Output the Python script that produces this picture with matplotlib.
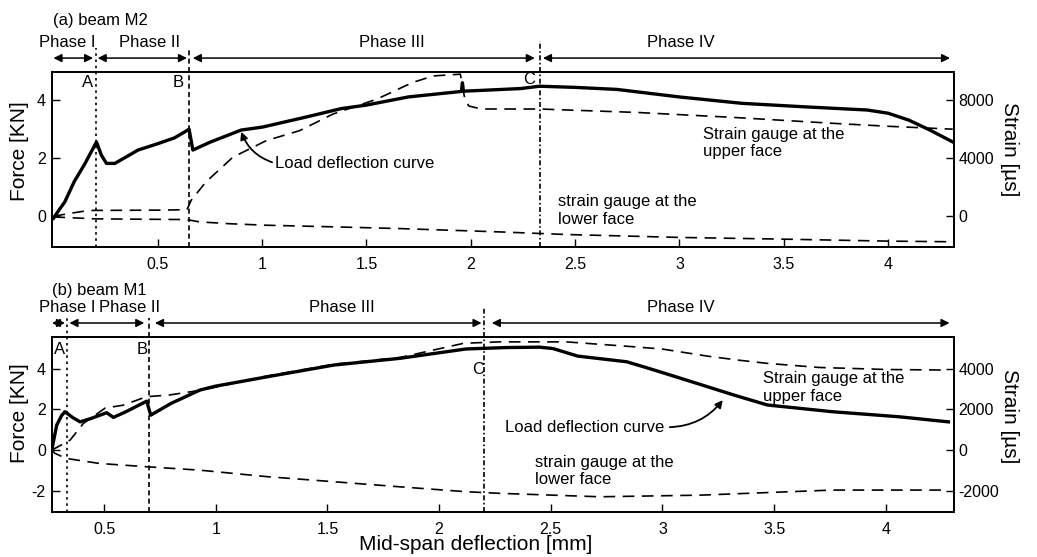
import matplotlib
matplotlib.use('Agg')
import matplotlib.pyplot as plt

plt.rcParams['font.family'] = ['Liberation Sans', 'DejaVu Sans']
plt.rcParams['axes.unicode_minus'] = False

# ---------------- data: (a) beam M2 ----------------
m2_load_x = [0.0, 0.03, 0.054, 0.10, 0.15, 0.206, 0.23, 0.254, 0.294, 0.35, 0.405, 0.5, 0.58, 0.637,
             0.65, 0.668, 0.75, 0.9, 1.0, 1.2, 1.38, 1.5, 1.7, 1.955, 1.96, 1.965, 2.0, 2.24, 2.33,
             2.5, 2.7, 3.0, 3.3, 3.6, 3.9, 4.0, 4.1, 4.2, 4.31]
m2_load_y = [-0.07, 0.25, 0.49, 1.2, 1.8, 2.56, 2.1, 1.82, 1.82, 2.05, 2.28, 2.5, 2.7, 2.94,
             3.0, 2.28, 2.55, 2.97, 3.07, 3.4, 3.71, 3.83, 4.11, 4.3, 4.6, 4.31, 4.32, 4.40, 4.48,
             4.44, 4.37, 4.11, 3.89, 3.77, 3.66, 3.55, 3.31, 2.97, 2.56]
m2_upper_x = [0.0, 0.08, 0.17, 0.5, 0.64, 0.66, 0.73, 0.86, 1.02, 1.18, 1.34, 1.55, 1.72, 1.82,
              1.95, 1.97, 1.99, 2.05, 2.33, 2.8, 3.26, 3.74, 4.0, 4.31]
m2_upper_y = [0, 200, 400, 420, 450, 1100, 2350, 4070, 5210, 5900, 7045, 8070, 9210, 9670,
              9790, 8200, 7600, 7390, 7390, 7150, 6810, 6400, 6200, 6000]
m2_lower_x = [0.0, 0.08, 0.2, 0.64, 0.70, 0.85, 1.02, 1.34, 1.66, 2.14, 2.46, 3.0, 3.5, 4.0, 4.31]
m2_lower_y = [-50, -100, -180, -230, -390, -520, -620, -730, -850, -1080, -1260, -1460, -1580,
              -1715, -1760]

# ---------------- data: (b) beam M1 ----------------
m1_load_x = [0.266, 0.288, 0.31, 0.325, 0.36, 0.393, 0.44, 0.482, 0.512, 0.542, 0.6, 0.691, 0.709,
             0.8, 0.93, 1.0, 1.23, 1.53, 1.825, 2.12, 2.3, 2.45, 2.51, 2.62, 2.84, 2.94, 3.06, 3.32,
             3.47, 3.76, 4.06, 4.28]
m1_load_y = [0.0, 1.23, 1.7, 1.89, 1.6, 1.39, 1.55, 1.72, 1.84, 1.61, 1.9, 2.41, 1.72,
             2.3, 2.96, 3.15, 3.61, 4.19, 4.52, 4.98, 5.05, 5.07, 5.0, 4.63, 4.35, 4.02, 3.61, 2.71,
             2.22, 1.89, 1.64, 1.39]
m1_upper_x = [0.266, 0.30, 0.348, 0.407, 0.505, 0.585, 0.69, 0.79, 0.94, 1.23, 1.53, 1.825, 2.11,
              2.27, 2.57, 2.87, 3.0, 3.2, 3.34, 3.47, 3.7, 4.0, 4.28]
m1_upper_y = [0, 200, 490, 1310, 2070, 2210, 2630, 2710, 2960, 3650, 4230, 4560, 5260,
              5330, 5330, 5090, 4975, 4630, 4430, 4270, 4070, 3970, 3940]
m1_lower_x = [0.266, 0.28, 0.33, 0.48, 0.69, 0.93, 1.23, 1.53, 1.825, 2.12, 2.27, 2.72, 3.17,
              3.76, 4.28]
m1_lower_y = [0, -160, -410, -660, -820, -990, -1310, -1560, -1810, -2050, -2130, -2300, -2220,
              -1970, -1970]

phase_names = ['Phase I', 'Phase II', 'Phase III', 'Phase IV']
point_names = ['A', 'B', 'C']

m2_bounds = [0.206, 0.65, 2.331]
m1_bounds = [0.333, 0.701, 2.2]

FS_TXT = 12
FS_TICK = 11.5
FS_LAB = 15

fig = plt.figure(figsize=(10.37, 5.57), dpi=100)
W, H = 1037.0, 557.0
ax1 = fig.add_axes([52 / W, 1 - 247 / H, 902 / W, 175 / H])
ax2 = fig.add_axes([52 / W, 1 - 512 / H, 902 / W, 175 / H])

dash_style = dict(color='black', lw=1.2, dashes=(7, 4.5))


def style_axes(ax, axr, xlim, ylim, ratio, yticks, ryticks, lab_y_left, lab_y_right):
    ax.set_xlim(*xlim)
    ax.set_ylim(*ylim)
    axr.set_ylim(ylim[0] * ratio, ylim[1] * ratio)
    ax.set_xticks([0.5, 1, 1.5, 2, 2.5, 3, 3.5, 4])
    ax.set_xticklabels(['0.5', '1', '1.5', '2', '2.5', '3', '3.5', '4'])
    ax.set_yticks(yticks)
    ax.set_yticklabels([str(v) for v in yticks])
    axr.set_yticks(ryticks)
    axr.set_yticklabels([str(v) for v in ryticks])
    ax.tick_params(axis='x', direction='in', length=6, width=1, labelsize=FS_TICK, pad=7)
    ax.tick_params(axis='y', direction='in', length=6, width=1, labelsize=FS_TICK, pad=4.5)
    axr.tick_params(axis='y', direction='in', length=6, width=1, labelsize=FS_TICK, pad=3)
    for a in (ax, axr):
        for s in a.spines.values():
            s.set_linewidth(1.3)
    ax.set_ylabel('Force [KN]', fontsize=FS_LAB)
    ax.yaxis.set_label_coords(-0.0355, lab_y_left)
    ax.yaxis.label.set_va('center')
    ax.yaxis.label.set_ha('center')
    axr.set_ylabel('Strain [µs]', fontsize=FS_LAB, rotation=270)
    axr.yaxis.set_label_coords(1.062, lab_y_right)
    axr.yaxis.label.set_va('center')
    axr.yaxis.label.set_ha('center')


# ---------------- panel (a) ----------------
ax1r = ax1.twinx()
ax1.plot(m2_load_x, m2_load_y, color='black', lw=2.4, solid_joinstyle='round')
ax1r.plot(m2_upper_x, m2_upper_y, **dash_style)
ax1r.plot(m2_lower_x, m2_lower_y, **dash_style)
ylim1 = (-1.06, 4.97)
style_axes(ax1, ax1r, (-0.007, 4.316), ylim1, 2000, [0, 2, 4], [0, 4000, 8000], 0.549, 0.56)

vstyles = [(1.5, 2.2), (3, 2), (3, 1.5, 1, 1.5)]
for xb, ds, ytop in zip(m2_bounds, vstyles, [5.8, 5.8, 6.05]):
    ax1.plot([xb, xb], [ylim1[0], ytop], color='black', lw=1.2, dashes=ds, clip_on=False)

m2_arrows = [(0.0, 0.19), (0.212, 0.64), (0.668, 2.307), (2.346, 4.297)]
for (a, b) in m2_arrows:
    ax1.annotate('', xy=(b, 5.45), xytext=(a, 5.45), annotation_clip=False,
                 arrowprops=dict(arrowstyle='<|-|>', color='black', lw=1.1,
                                 mutation_scale=12, shrinkA=0, shrinkB=0))
for name, xc in zip(phase_names, [0.064, 0.462, 1.622, 3.007]):
    ax1.text(xc, 6.0, name, ha='center', va='center', fontsize=FS_TXT, clip_on=False)
ax1.text(0.0, 6.76, '(a) beam M2', ha='left', va='center', fontsize=FS_TXT, clip_on=False)
for name, (xp, yp) in zip(point_names, [(0.165, 4.62), (0.60, 4.62), (2.28, 4.72)]):
    ax1.text(xp, yp, name, ha='center', va='center', fontsize=FS_TXT)

ax1.annotate('Load deflection curve', xy=(0.90, 2.91), xytext=(1.061, 1.83),
             ha='left', va='center', fontsize=FS_TXT,
             arrowprops=dict(arrowstyle='-|>', color='black', lw=1.3, mutation_scale=11,
                             shrinkA=0, shrinkB=0, relpos=(0, 0.5),
                             connectionstyle='arc3,rad=-0.25'))
ax1.text(3.113, 2.52, 'Strain gauge at the\nupper face', ha='left', va='center',
         fontsize=FS_TXT, linespacing=1.2)
ax1.text(2.418, 0.2, 'strain gauge at the\nlower face', ha='left', va='center',
         fontsize=FS_TXT, linespacing=1.2)

# ---------------- panel (b) ----------------
ax2r = ax2.twinx()
ax2.plot(m1_load_x, m1_load_y, color='black', lw=2.4, solid_joinstyle='round')
ax2r.plot(m1_upper_x, m1_upper_y, **dash_style)
ax2r.plot(m1_lower_x, m1_lower_y, **dash_style)
ylim2 = (-3.05, 5.57)
style_axes(ax2, ax2r, (0.267, 4.305), ylim2, 1000, [-2, 0, 2, 4], [-2000, 0, 2000, 4000],
           0.566, 0.549)

for xb, ds, ytop in zip(m1_bounds, vstyles, [6.5, 6.5, 7.0]):
    ax2.plot([xb, xb], [ylim2[0], ytop], color='black', lw=1.2, dashes=ds, clip_on=False)

m1_arrows = [(0.267, 0.325), (0.345, 0.68), (0.728, 2.19), (2.236, 4.285)]
for (a, b) in m1_arrows:
    ax2.annotate('', xy=(b, 6.26), xytext=(a, 6.26), annotation_clip=False,
                 arrowprops=dict(arrowstyle='<|-|>', color='black', lw=1.1,
                                 mutation_scale=12, shrinkA=0, shrinkB=0))
for name, xc in zip(phase_names, [0.334, 0.616, 1.565, 3.083]):
    ax2.text(xc, 7.04, name, ha='center', va='center', fontsize=FS_TXT, clip_on=False)
ax2.text(0.268, 7.88, '(b) beam M1', ha='left', va='center', fontsize=FS_TXT, clip_on=False)
for name, (xp, yp) in zip(point_names, [(0.299, 4.93), (0.67, 4.93), (2.174, 3.99)]):
    ax2.text(xp, yp, name, ha='center', va='center', fontsize=FS_TXT)

ax2.annotate('Load deflection curve', xy=(3.27, 2.46), xytext=(2.295, 1.13),
             ha='left', va='center', fontsize=FS_TXT,
             arrowprops=dict(arrowstyle='-|>', color='black', lw=1.3, mutation_scale=11,
                             shrinkA=2, shrinkB=0, relpos=(1, 0.5),
                             connectionstyle='arc3,rad=0.25'))
ax2.text(3.45, 3.08, 'Strain gauge at the\nupper face', ha='left', va='center',
         fontsize=FS_TXT, linespacing=1.2)
ax2.text(2.43, -1.03, 'strain gauge at the\nlower face', ha='left', va='center',
         fontsize=FS_TXT, linespacing=1.2)

ax2.set_xlabel('Mid-span deflection [mm]', fontsize=FS_LAB)
ax2.xaxis.set_label_coords((476 - 52) / 902, (512 - 545) / 175)
ax2.xaxis.label.set_va('center')

fig.savefig('out.png', dpi=100)
